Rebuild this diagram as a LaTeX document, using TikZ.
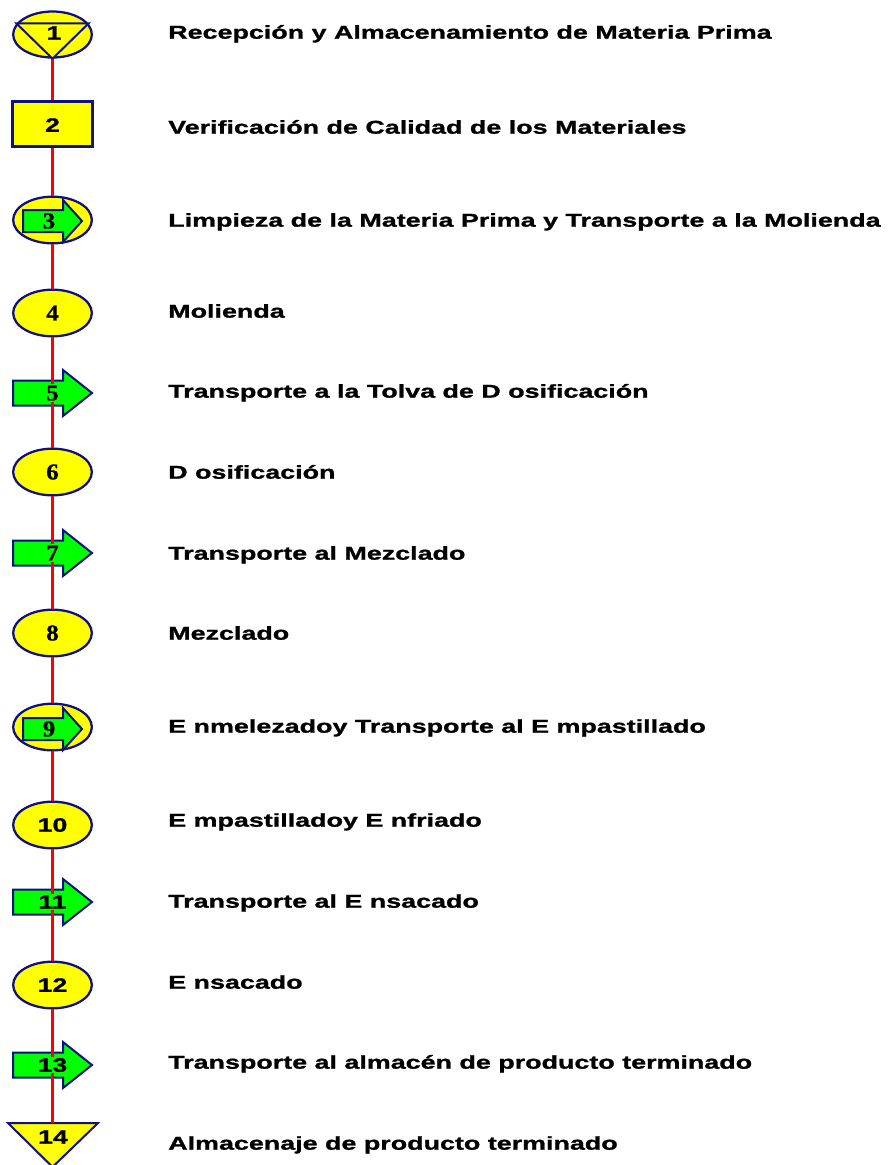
\documentclass[tikz,border=0pt]{standalone}
\usepackage{fontspec}
\usetikzlibrary{shapes.geometric}
\newfontfamily\lab{Liberation Sans Bold}[FakeStretch=1.45,FakeBold=1.2]
\newfontfamily\numsans{Liberation Sans Bold}[FakeStretch=1.38,FakeBold=1.2]
\newfontfamily\numserif{Liberation Serif Bold}[FakeStretch=1.1,FakeBold=1]
\definecolor{yel}{HTML}{FFFF00}
\definecolor{navy}{HTML}{101080}
\definecolor{grn}{HTML}{00FF00}
\definecolor{rline}{HTML}{FF0000}
\tikzset{
  ell/.style={ellipse, draw=navy, fill=yel, line width=1.7pt, minimum width=59pt, minimum height=35pt, inner sep=0pt},
  box/.style={rectangle, draw=navy, fill=yel, line width=2.2pt, minimum width=60pt, minimum height=34pt, inner sep=0pt},
  arr/.style={draw=navy, fill=grn, line width=1.5pt, line join=miter},
  tri/.style={draw=navy, fill=yel, line width=1.5pt, line join=miter},
  spine/.style={draw=rline, line width=1.6pt},
  ns/.style={font=\numsans\fontsize{14.5}{15}\selectfont, inner sep=1pt},
  nr/.style={font=\numserif\fontsize{17}{17}\selectfont, inner sep=1pt},
  lbl/.style={anchor=west, inner sep=0pt, text height=10pt, text depth=0pt, font=\lab\fontsize{13.9}{16}\selectfont}
}
\newcommand\garrow[6]{\filldraw[arr] (#1,#4-#5) -- (#2,#4-#5) -- (#2,#4-#6) -- (#3,#4) -- (#2,#4+#6) -- (#2,#4+#5) -- (#1,#4+#5) -- cycle;}
\begin{document}
\begin{tikzpicture}[x=0.75pt,y=-0.75pt]
\path[use as bounding box] (0,0) rectangle (888,1165);
% 1
\node[ell, minimum height=34.5pt] (s1) at (52.5,34.5) {};
\filldraw[tri] (s1.163) -- (s1.17) -- (s1.south) -- cycle;
\node[ns] (n1) at (54,33) {1};
% 2
\node[box] (s2) at (52.5,124) {};
\node[ns] (n2) at (52.5,125) {2};
% 3
\node[ell] (s3) at (52.5,220) {};
\garrow{23}{63}{82}{221}{11}{21}
\node[nr] (n3) at (49,221) {3};
% 4
\node[ell] (s4) at (52.5,313) {\numserif\fontsize{17}{17}\selectfont 4};
% 5
\garrow{13}{63}{92}{393}{12.5}{23}
\node[nr] (s5) at (52.5,393) {5};
% 6
\node[ell] (s6) at (52.5,472) {\numserif\fontsize{17}{17}\selectfont 6};
% 7
\garrow{13}{63}{92}{553}{12.5}{23}
\node[nr] (s7) at (52.5,553) {7};
% 8
\node[ell] (s8) at (52.5,633) {\numserif\fontsize{17}{17}\selectfont 8};
% 9
\node[ell] (s9) at (52.5,727) {};
\garrow{23}{63}{82}{729}{11}{21}
\node[nr] (n9) at (49,729) {9};
% 10
\node[ell] (s10) at (52.5,825) {\numsans\fontsize{14.5}{15}\selectfont 10};
% 11
\garrow{13}{63}{92}{902}{12.5}{23}
\node[ns] (s11) at (52.5,902) {11};
% 12
\node[ell] (s12) at (52.5,985) {\numsans\fontsize{14.5}{15}\selectfont 12};
% 13
\garrow{13}{63}{92}{1065}{12.5}{23}
\node[ns] (s13) at (52.5,1065) {13};
% 14
\filldraw[tri] (8,1123) -- (98,1123) -- (52.5,1167) -- cycle;
\coordinate (s14) at (52.5,1123);
\node[ns] (n14) at (53,1137) {14};
% spine
\draw[spine] (s1) -- (s2);
\draw[spine] (s2) -- (s3);
\draw[spine] (s3) -- (s4);
\draw[spine] (s4) -- (s5);
\draw[spine] (s5) -- (s6);
\draw[spine] (s6) -- (s7);
\draw[spine] (s7) -- (s8);
\draw[spine] (s8) -- (s9);
\draw[spine] (s9) -- (s10);
\draw[spine] (s10) -- (s11);
\draw[spine] (s11) -- (s12);
\draw[spine] (s12) -- (s13);
\draw[spine] (s13) -- (s14);
% labels
\node[lbl] (l1) at (168,32) {Recepción y Almacenamiento de Materia Prima};
\node[lbl] (l2) at (168,127) {Verificación de Calidad de los Materiales};
\node[lbl] (l3) at (168,220) {Limpieza de la Materia Prima y Transporte a la Molienda};
\node[lbl] (l4) at (168,311) {Molienda};
\node[lbl] (l5) at (168,391) {Transporte a la Tolva de D osificación};
\node[lbl] (l6) at (168,472) {D osificación};
\node[lbl] (l7) at (168,553) {Transporte al Mezclado};
\node[lbl] (l8) at (168,633) {Mezclado};
\node[lbl] (l9) at (168,726) {E nmelezadoy Transporte al E mpastillado};
\node[lbl] (l10) at (168,820) {E mpastilladoy E nfriado};
\node[lbl] (l11) at (168,901) {Transporte al E nsacado};
\node[lbl] (l12) at (168,982) {E nsacado};
\node[lbl] (l13) at (168,1062) {Transporte al almacén de producto terminado};
\node[lbl] (l14) at (168,1143) {Almacenaje de producto terminado};
\end{tikzpicture}
\end{document}
